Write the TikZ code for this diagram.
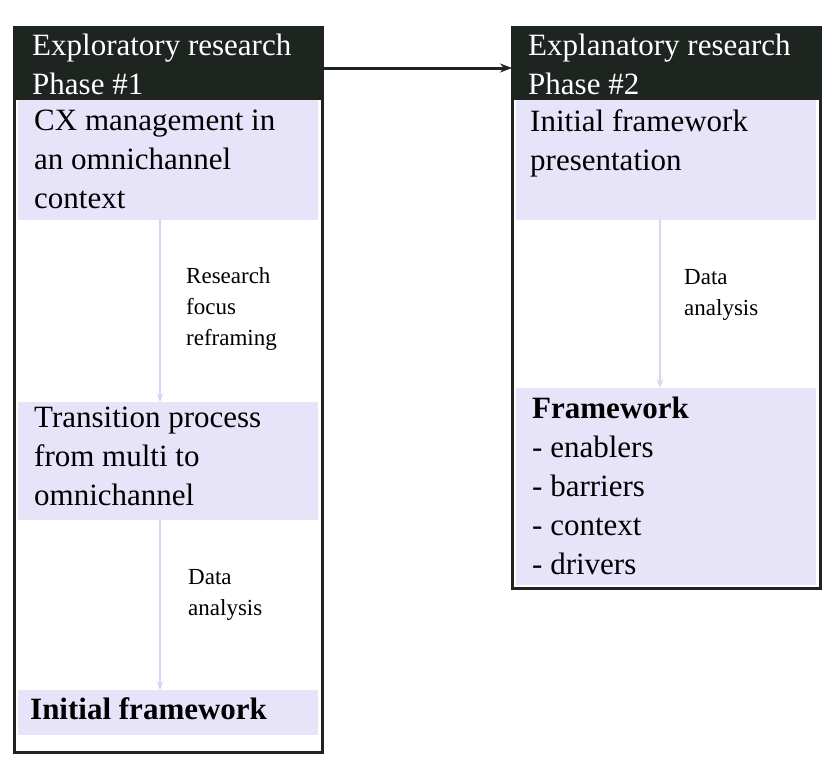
\documentclass[tikz,border=0pt]{standalone}
\usepackage{fontspec}
\setmainfont{Liberation Serif}
\usetikzlibrary{arrows.meta}
\definecolor{hd}{HTML}{1E2420}
\definecolor{lav}{HTML}{E7E4FA}
\definecolor{lavarr}{HTML}{D8D4F6}
\begin{document}
\begin{tikzpicture}[x=1pt,y=-1pt,
  big/.style={anchor=north west,align=left,inner sep=0pt,font=\fontsize{31}{39}\selectfont},
  small/.style={anchor=north west,align=left,inner sep=0pt,font=\fontsize{23}{31}\selectfont},
  flow/.style={draw=lavarr,line width=2.5pt,-{Stealth[length=9pt]}}]
\useasboundingbox (0,0) rectangle (834,760);
% left box
\fill[white] (14,28) rectangle (322,752);
\fill[hd] (14,28) rectangle (322,100);
\fill[lav] (18,100) rectangle (318,220);
\fill[lav] (18,402) rectangle (318,520);
\fill[lav] (18,690) rectangle (318,735);
\draw[hd,line width=3pt] (14,28) rectangle (322,752);
% right box
\fill[hd] (512,28) rectangle (820,100);
\fill[lav] (516,100) rectangle (816,220);
\fill[lav] (516,388) rectangle (816,585);
\draw[hd,line width=3pt] (512,28) rectangle (820,588);
\node[big,text=white] (h1) at (32,34) {Exploratory research\\Phase \#1};
\node[big] (a1) at (34,110) {CX management in\\an omnichannel\\context};
\node[big] (a2) at (34,407) {Transition process\\from multi to\\omnichannel};
\node[big] (a3) at (30,697) {\textbf{Initial framework}};
\node[big,text=white] (h2) at (528,34) {Explanatory research\\Phase \#2};
\node[big] (b1) at (530,109) {Initial framework\\presentation};
\node[big] (b2) at (532,397) {\textbf{Framework}\\- enablers\\- barriers\\- context\\- drivers};
\node[small] (l1) at (186,267) {Research\\focus\\reframing};
\node[small] (l2) at (188,569) {Data\\analysis};
\node[small] (l3) at (684,269) {Data\\analysis};
\coordinate (p1) at (160,220); \coordinate (p2) at (160,402);
\coordinate (p3) at (160,520); \coordinate (p4) at (160,690);
\coordinate (q1) at (660,220); \coordinate (q2) at (660,388);
\draw[flow] (p1) -- (p2);
\draw[flow] (p3) -- (p4);
\draw[flow] (q1) -- (q2);
\coordinate (s) at (322,68); \coordinate (t) at (512,68);
\draw[hd,line width=3pt,-{Stealth[length=12pt]}] (s) -- (t);
\end{tikzpicture}
\end{document}
